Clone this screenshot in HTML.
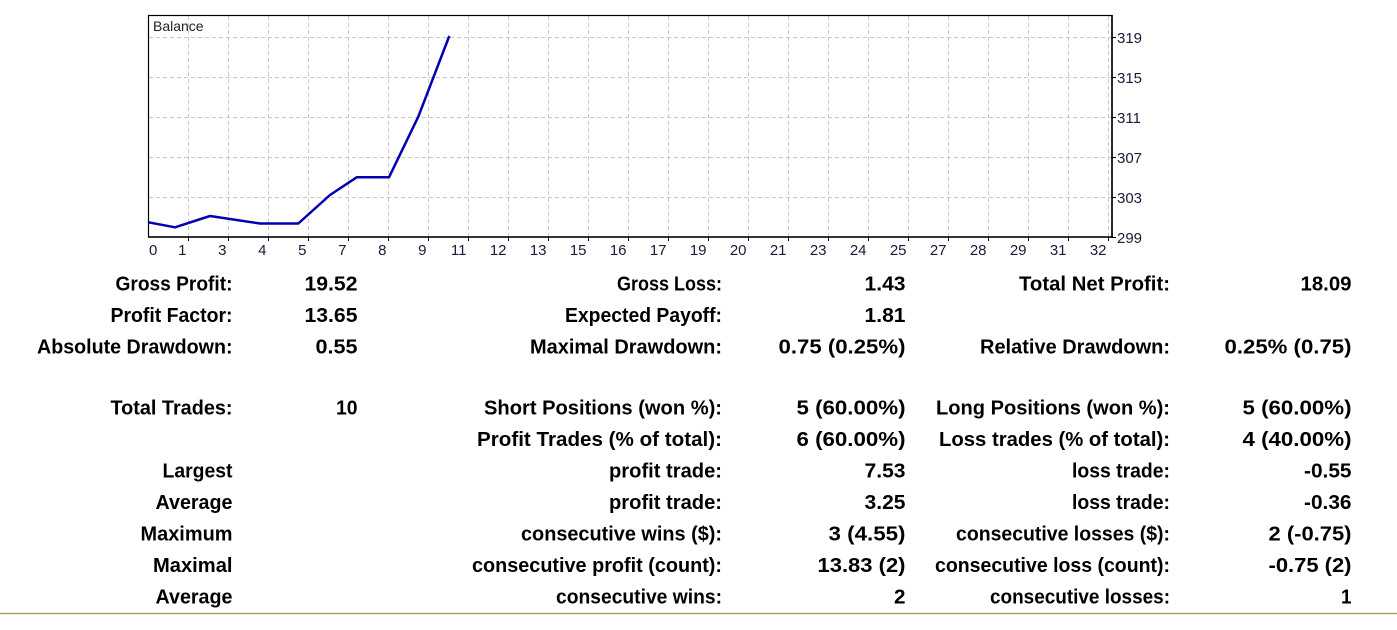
<!DOCTYPE html>
<html><head><meta charset="utf-8"><style>
html,body{margin:0;padding:0;background:#fff;}
svg{display:block;}
.t{font-family:"Liberation Sans",Arial,sans-serif;font-weight:bold;font-size:20px;fill:#000;}
.ax{font-family:"Liberation Sans",Arial,sans-serif;font-size:15px;fill:#1a1a3a;}
</style></head><body>
<svg width="1397" height="630" viewBox="0 0 1397 630" xmlns="http://www.w3.org/2000/svg">
<rect width="1397" height="630" fill="#fff"/>
<g stroke="#c8c8c8" stroke-width="1" stroke-dasharray="4 3" fill="none">
<line x1="149" y1="37.5" x2="1111" y2="37.5"/>
<line x1="149" y1="77.5" x2="1111" y2="77.5"/>
<line x1="149" y1="117.5" x2="1111" y2="117.5"/>
<line x1="149" y1="157.5" x2="1111" y2="157.5"/>
<line x1="149" y1="197.5" x2="1111" y2="197.5"/>
<line x1="188.5" y1="16" x2="188.5" y2="236"/>
<line x1="228.5" y1="16" x2="228.5" y2="236"/>
<line x1="268.5" y1="16" x2="268.5" y2="236"/>
<line x1="308.5" y1="16" x2="308.5" y2="236"/>
<line x1="348.5" y1="16" x2="348.5" y2="236"/>
<line x1="388.5" y1="16" x2="388.5" y2="236"/>
<line x1="428.5" y1="16" x2="428.5" y2="236"/>
<line x1="468.5" y1="16" x2="468.5" y2="236"/>
<line x1="508.5" y1="16" x2="508.5" y2="236"/>
<line x1="548.5" y1="16" x2="548.5" y2="236"/>
<line x1="588.5" y1="16" x2="588.5" y2="236"/>
<line x1="628.5" y1="16" x2="628.5" y2="236"/>
<line x1="668.5" y1="16" x2="668.5" y2="236"/>
<line x1="708.5" y1="16" x2="708.5" y2="236"/>
<line x1="748.5" y1="16" x2="748.5" y2="236"/>
<line x1="788.5" y1="16" x2="788.5" y2="236"/>
<line x1="828.5" y1="16" x2="828.5" y2="236"/>
<line x1="868.5" y1="16" x2="868.5" y2="236"/>
<line x1="908.5" y1="16" x2="908.5" y2="236"/>
<line x1="948.5" y1="16" x2="948.5" y2="236"/>
<line x1="988.5" y1="16" x2="988.5" y2="236"/>
<line x1="1028.5" y1="16" x2="1028.5" y2="236"/>
<line x1="1068.5" y1="16" x2="1068.5" y2="236"/>
<line x1="1108.5" y1="16" x2="1108.5" y2="236"/>
</g>
<g stroke="#000" stroke-width="1">
<line x1="188.5" y1="237" x2="188.5" y2="241"/><line x1="228.5" y1="237" x2="228.5" y2="241"/><line x1="268.5" y1="237" x2="268.5" y2="241"/><line x1="308.5" y1="237" x2="308.5" y2="241"/><line x1="348.5" y1="237" x2="348.5" y2="241"/><line x1="388.5" y1="237" x2="388.5" y2="241"/><line x1="428.5" y1="237" x2="428.5" y2="241"/><line x1="468.5" y1="237" x2="468.5" y2="241"/><line x1="508.5" y1="237" x2="508.5" y2="241"/><line x1="548.5" y1="237" x2="548.5" y2="241"/><line x1="588.5" y1="237" x2="588.5" y2="241"/><line x1="628.5" y1="237" x2="628.5" y2="241"/><line x1="668.5" y1="237" x2="668.5" y2="241"/><line x1="708.5" y1="237" x2="708.5" y2="241"/><line x1="748.5" y1="237" x2="748.5" y2="241"/><line x1="788.5" y1="237" x2="788.5" y2="241"/><line x1="828.5" y1="237" x2="828.5" y2="241"/><line x1="868.5" y1="237" x2="868.5" y2="241"/><line x1="908.5" y1="237" x2="908.5" y2="241"/><line x1="948.5" y1="237" x2="948.5" y2="241"/><line x1="988.5" y1="237" x2="988.5" y2="241"/><line x1="1028.5" y1="237" x2="1028.5" y2="241"/><line x1="1068.5" y1="237" x2="1068.5" y2="241"/><line x1="1108.5" y1="237" x2="1108.5" y2="241"/>
<line x1="1112" y1="37.5" x2="1116" y2="37.5"/><line x1="1112" y1="77.5" x2="1116" y2="77.5"/><line x1="1112" y1="117.5" x2="1116" y2="117.5"/><line x1="1112" y1="157.5" x2="1116" y2="157.5"/><line x1="1112" y1="197.5" x2="1116" y2="197.5"/><line x1="1112" y1="237.5" x2="1116" y2="237.5"/>
</g>
<rect x="148.5" y="15.5" width="963.5" height="221.5" fill="none" stroke="#000" stroke-width="1.2"/>
<line x1="148" y1="237" x2="1113" y2="237" stroke="#000" stroke-width="1.6"/>
<line x1="1112" y1="15" x2="1112" y2="238" stroke="#000" stroke-width="1.6"/>
<text x="153" y="31" font-family="Liberation Sans, Arial, sans-serif" font-size="14" fill="#222">Balance</text>
<polyline fill="none" stroke="#0000b0" stroke-width="2.5" stroke-linejoin="round" points="148.5,222.3 175,227.3 210,216 260,223.5 298.3,223.5 330,195 356.7,177.3 389,177.3 418.3,116.7 449.3,36"/>
<g class="ax">
<text x="1117" y="43">319</text>
<text x="1117" y="83">315</text>
<text x="1117" y="123">311</text>
<text x="1117" y="163">307</text>
<text x="1117" y="203">303</text>
<text x="1117" y="243">299</text>
</g>
<g class="ax">
<text x="149" y="255">0</text>
<g text-anchor="end">
<text x="186.5" y="255">1</text>
<text x="226.5" y="255">3</text>
<text x="266.5" y="255">4</text>
<text x="306.5" y="255">5</text>
<text x="346.5" y="255">7</text>
<text x="386.5" y="255">8</text>
<text x="426.5" y="255">9</text>
<text x="466.5" y="255">11</text>
<text x="506.5" y="255">12</text>
<text x="546.5" y="255">13</text>
<text x="586.5" y="255">15</text>
<text x="626.5" y="255">16</text>
<text x="666.5" y="255">17</text>
<text x="706.5" y="255">19</text>
<text x="746.5" y="255">20</text>
<text x="786.5" y="255">21</text>
<text x="826.5" y="255">23</text>
<text x="866.5" y="255">24</text>
<text x="906.5" y="255">25</text>
<text x="946.5" y="255">27</text>
<text x="986.5" y="255">28</text>
<text x="1026.5" y="255">29</text>
<text x="1066.5" y="255">31</text>
<text x="1106.5" y="255">32</text>
</g>
</g>
<g class="t">
<text x="115.5" y="290.5" textLength="117" lengthAdjust="spacingAndGlyphs">Gross Profit:</text>
<text x="110.5" y="322" textLength="122" lengthAdjust="spacingAndGlyphs">Profit Factor:</text>
<text x="37" y="353.5" textLength="195.5" lengthAdjust="spacingAndGlyphs">Absolute Drawdown:</text>
<text x="110.5" y="414.5" textLength="122" lengthAdjust="spacingAndGlyphs">Total Trades:</text>
<text x="162.5" y="477.5" textLength="70" lengthAdjust="spacingAndGlyphs">Largest</text>
<text x="155.5" y="509" textLength="77" lengthAdjust="spacingAndGlyphs">Average</text>
<text x="140.5" y="540.5" textLength="92" lengthAdjust="spacingAndGlyphs">Maximum</text>
<text x="153" y="572" textLength="79.5" lengthAdjust="spacingAndGlyphs">Maximal</text>
<text x="155.5" y="603.5" textLength="77" lengthAdjust="spacingAndGlyphs">Average</text>
<text x="304.5" y="290.5" textLength="53" lengthAdjust="spacingAndGlyphs">19.52</text>
<text x="304.5" y="322" textLength="53" lengthAdjust="spacingAndGlyphs">13.65</text>
<text x="315.5" y="353.5" textLength="42" lengthAdjust="spacingAndGlyphs">0.55</text>
<text x="336" y="414.5" textLength="21.5" lengthAdjust="spacingAndGlyphs">10</text>
<text x="617" y="290.5" textLength="105" lengthAdjust="spacingAndGlyphs">Gross Loss:</text>
<text x="565" y="322" textLength="157" lengthAdjust="spacingAndGlyphs">Expected Payoff:</text>
<text x="530" y="353.5" textLength="192" lengthAdjust="spacingAndGlyphs">Maximal Drawdown:</text>
<text x="484" y="414.5" textLength="238" lengthAdjust="spacingAndGlyphs">Short Positions (won %):</text>
<text x="477" y="446" textLength="245" lengthAdjust="spacingAndGlyphs">Profit Trades (% of total):</text>
<text x="609" y="477.5" textLength="113" lengthAdjust="spacingAndGlyphs">profit trade:</text>
<text x="609" y="509" textLength="113" lengthAdjust="spacingAndGlyphs">profit trade:</text>
<text x="521" y="540.5" textLength="201" lengthAdjust="spacingAndGlyphs">consecutive wins ($):</text>
<text x="472" y="572" textLength="250" lengthAdjust="spacingAndGlyphs">consecutive profit (count):</text>
<text x="556" y="603.5" textLength="166" lengthAdjust="spacingAndGlyphs">consecutive wins:</text>
<text x="864.5" y="290.5" textLength="41" lengthAdjust="spacingAndGlyphs">1.43</text>
<text x="864.5" y="322" textLength="41" lengthAdjust="spacingAndGlyphs">1.81</text>
<text x="778.5" y="353.5" textLength="127" lengthAdjust="spacingAndGlyphs">0.75 (0.25%)</text>
<text x="796.5" y="414.5" textLength="109" lengthAdjust="spacingAndGlyphs">5 (60.00%)</text>
<text x="796.5" y="446" textLength="109" lengthAdjust="spacingAndGlyphs">6 (60.00%)</text>
<text x="864.5" y="477.5" textLength="41" lengthAdjust="spacingAndGlyphs">7.53</text>
<text x="864.5" y="509" textLength="41" lengthAdjust="spacingAndGlyphs">3.25</text>
<text x="828.5" y="540.5" textLength="77" lengthAdjust="spacingAndGlyphs">3 (4.55)</text>
<text x="817.5" y="572" textLength="88" lengthAdjust="spacingAndGlyphs">13.83 (2)</text>
<text x="894" y="603.5" textLength="11.5" lengthAdjust="spacingAndGlyphs">2</text>
<text x="1019" y="290.5" textLength="151" lengthAdjust="spacingAndGlyphs">Total Net Profit:</text>
<text x="980" y="353.5" textLength="190" lengthAdjust="spacingAndGlyphs">Relative Drawdown:</text>
<text x="936" y="414.5" textLength="234" lengthAdjust="spacingAndGlyphs">Long Positions (won %):</text>
<text x="939" y="446" textLength="231" lengthAdjust="spacingAndGlyphs">Loss trades (% of total):</text>
<text x="1072" y="477.5" textLength="98" lengthAdjust="spacingAndGlyphs">loss trade:</text>
<text x="1072" y="509" textLength="98" lengthAdjust="spacingAndGlyphs">loss trade:</text>
<text x="956" y="540.5" textLength="214" lengthAdjust="spacingAndGlyphs">consecutive losses ($):</text>
<text x="935" y="572" textLength="235" lengthAdjust="spacingAndGlyphs">consecutive loss (count):</text>
<text x="990" y="603.5" textLength="180" lengthAdjust="spacingAndGlyphs">consecutive losses:</text>
<text x="1300.5" y="290.5" textLength="51" lengthAdjust="spacingAndGlyphs">18.09</text>
<text x="1224.5" y="353.5" textLength="127" lengthAdjust="spacingAndGlyphs">0.25% (0.75)</text>
<text x="1242.5" y="414.5" textLength="109" lengthAdjust="spacingAndGlyphs">5 (60.00%)</text>
<text x="1242.5" y="446" textLength="109" lengthAdjust="spacingAndGlyphs">4 (40.00%)</text>
<text x="1304" y="477.5" textLength="47.5" lengthAdjust="spacingAndGlyphs">-0.55</text>
<text x="1304" y="509" textLength="47.5" lengthAdjust="spacingAndGlyphs">-0.36</text>
<text x="1268.5" y="540.5" textLength="83" lengthAdjust="spacingAndGlyphs">2 (-0.75)</text>
<text x="1268.5" y="572" textLength="83" lengthAdjust="spacingAndGlyphs">-0.75 (2)</text>
<text x="1341" y="603.5" textLength="10.5" lengthAdjust="spacingAndGlyphs">1</text>
</g>
<line x1="0" y1="613.5" x2="1397" y2="613.5" stroke="#a8905e" stroke-width="1.3"/>
</svg>
</body></html>
